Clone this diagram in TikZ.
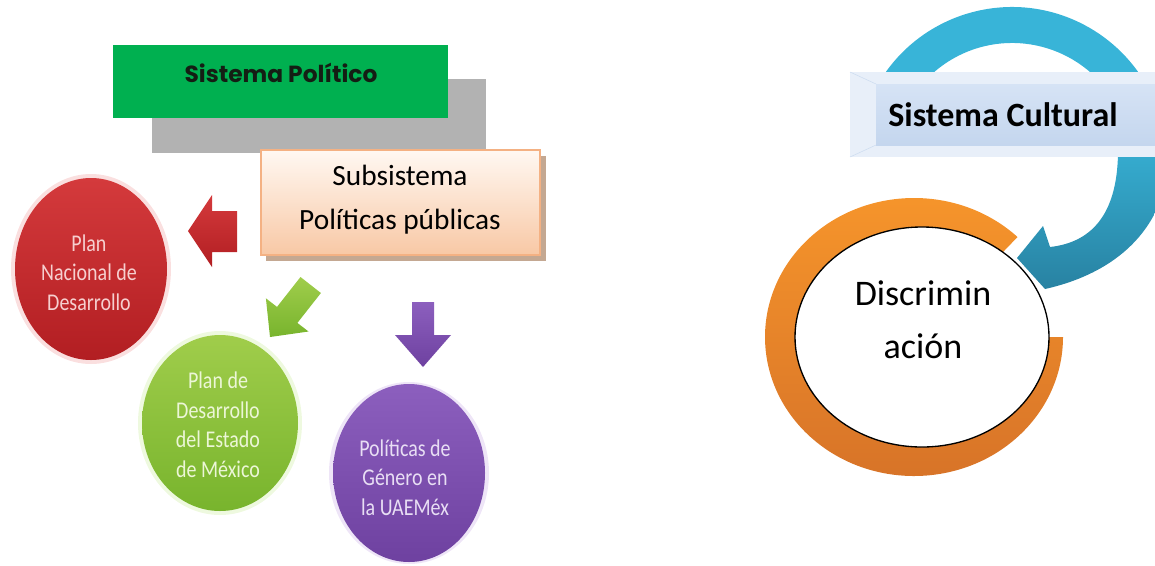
\documentclass[tikz,border=0pt]{standalone}
\usepackage{fontspec}
\usepackage{graphicx}
\setmainfont{Carlito}
\newfontfamily\politfont{Poppins}
\newcommand{\tallcirc}[1]{\scalebox{1}[1.2]{\begin{tabular}{@{}c@{}}#1\end{tabular}}}
\definecolor{redtop}{RGB}{212,58,60}
\definecolor{redbot}{RGB}{178,30,34}
\definecolor{greentop}{RGB}{160,205,75}
\definecolor{greenbot}{RGB}{120,180,45}
\definecolor{purptop}{RGB}{140,95,190}
\definecolor{purpbot}{RGB}{110,65,160}
\definecolor{peachtop}{RGB}{255,248,242}
\definecolor{peachbot}{RGB}{248,200,165}
\definecolor{bluetop}{RGB}{56,180,216}
\definecolor{bluebot}{RGB}{40,130,162}
\definecolor{orangetop}{RGB}{247,150,43}
\definecolor{orangebot}{RGB}{214,114,40}
\definecolor{facetop}{RGB}{214,227,245}
\definecolor{facebot}{RGB}{196,214,238}

\begin{document}
\begin{tikzpicture}[x=0.75pt,y=0.75pt,yscale=-1,xscale=1,
  circtext/.style={inner sep=0.75pt, font=\fontsize{15}{18.5}\selectfont},
  glow/.style={draw=none, fill opacity=0.3}]
\useasboundingbox (0,0) rectangle (1155,565);

%Shape: Rectangle (grey, behind)
\draw  [draw=none, fill={rgb, 255:red, 178; green, 178; blue, 178 }] (152,79) -- (486,79) -- (486,153) -- (152,153) -- cycle ;
%Shape: Rectangle (green)
\draw  [draw=none, fill={rgb, 255:red, 0; green, 176; blue, 80 }] (113,45) -- (448,45) -- (448,118) -- (113,118) -- cycle ;
%Shape: Rectangle (shadow)
\draw  [draw=none, fill={rgb, 255:red, 196; green, 168; blue, 146 }] (266,156) -- (546,156) -- (546,261) -- (266,261) -- cycle ;
%Shape: Rectangle (subsistema)
\draw  [draw={rgb, 255:red, 244; green, 177; blue, 131 }, line width=1.5, top color=peachtop, bottom color=peachbot] (261,150) -- (540,150) -- (540,255) -- (261,255) -- cycle ;

%Left Arrow (red)
\draw  [draw=none, top color=redtop, bottom color=redbot] (188,231) -- (212,195) -- (212,211) -- (237,211) -- (237,252) -- (212,252) -- (212,267) -- cycle ;
%Down-left Arrow (green)
\draw  [draw=none, top color=greentop, bottom color=greenbot] (270,337) -- (308.5,331.5) -- (297.4,322.9) -- (320.9,293) -- (300.5,277) -- (277,306.9) -- (265.9,298.3) -- cycle ;
%Down Arrow (purple)
\draw  [draw=none, top color=purptop, bottom color=purpbot] (423,367) -- (395,335) -- (412,335) -- (412,302) -- (434,302) -- (434,335) -- (451,335) -- cycle ;

%Shape: Ellipse (red)
\draw  [glow, fill={rgb, 255:red, 240; green, 150; blue, 150 }] (91,269) ellipse (80 and 95) ;
\draw  [draw=none, top color=redtop, bottom color=redbot] (91,269) ellipse (76 and 91) ;
%Shape: Ellipse (green)
\draw  [glow, fill={rgb, 255:red, 200; green, 235; blue, 150 }] (220,423) ellipse (82 and 92) ;
\draw  [draw=none, top color=greentop, bottom color=greenbot] (220,423) ellipse (78 and 88) ;
%Shape: Ellipse (purple)
\draw  [glow, fill={rgb, 255:red, 200; green, 170; blue, 230 }] (409,473) ellipse (80 and 91) ;
\draw  [draw=none, top color=purptop, bottom color=purpbot] (409,473) ellipse (76 and 89) ;

%Shape: Ring (orange)
\draw  [draw=none, top color=orangetop, bottom color=orangebot] (914,337) ++(314:149 and 139) arc [start angle=314, end angle=0, x radius=149, y radius=139] -- ++(-36,0) arc [start angle=0, end angle=314, x radius=113, y radius=103] -- cycle ;
%Shape: Arc (blue, top)
\draw  [draw=none, fill=bluetop] (1012,162) ++(207.7:155) arc [start angle=207.7, end angle=332.3, radius=155] -- ++(-31.8,16.7) arc [start angle=332.3, end angle=207.7, radius=119] -- cycle ;
%Shape: Curved Arrow (blue)
\draw  [draw=none, top color=bluetop!85!bluebot, bottom color=bluebot] (1118,150) .. controls (1118,210) and (1095,242) .. (1050,247) -- (1043,226) -- (1017,258) -- (1045,289) .. controls (1112,274) and (1168,232) .. (1170,150) -- cycle ;
%Shape: Banner (bevel)
\draw  [draw=none, fill={rgb, 255:red, 232; green, 239; blue, 249 }] (850,72) -- (1160,72) -- (1160,157) -- (850,157) -- cycle ;
\draw  [draw=none, top color=facetop, bottom color=facebot] (876,84) -- (1160,84) -- (1160,145) -- (876,145) -- cycle ;
\draw  [draw={rgb, 255:red, 205; green, 220; blue, 240 }] (850,72) -- (876,84) (850,157) -- (876,145) ;
%Shape: Ellipse (white)
\draw  [fill=white, line width=1] (922,337) ellipse (127 and 110) ;

% Text Node
\draw (281,73) node (polit) [inner sep=0.75pt, text={rgb, 255:red, 20; green, 30; blue, 20 }, font=\politfont\bfseries\fontsize{17.5}{20}\selectfont] {Sistema Político};
% Text Node
\draw (400,200) node (subsis) [align=center, inner sep=0.75pt, font=\fontsize{22}{33}\selectfont] {Subsistema\\Políticas públicas};
% Text Node
\draw (89,275) node (plannac) [circtext, text={rgb, 255:red, 246; green, 207; blue, 207 }] {\tallcirc{Plan\\Nacional de\\Desarrollo}};
% Text Node
\draw (218,427) node (planedo) [circtext, text={rgb, 255:red, 236; green, 246; blue, 215 }] {\tallcirc{Plan de\\Desarrollo\\del Estado\\de México}};
% Text Node
\draw (405,480) node (genero) [circtext, text={rgb, 255:red, 232; green, 222; blue, 244 }] {\tallcirc{Políticas de\\Género en\\la UAEMéx}};
% Text Node
\draw (1003,115) node (cultural) [inner sep=0.75pt, font=\bfseries\fontsize{25.5}{28}\selectfont] {Sistema Cultural};
% Text Node
\draw (923,320) node (discrim) [align=center, inner sep=0.75pt, font=\fontsize{27}{40}\selectfont] {Discrimin\\ación};

\end{tikzpicture}
\end{document}
